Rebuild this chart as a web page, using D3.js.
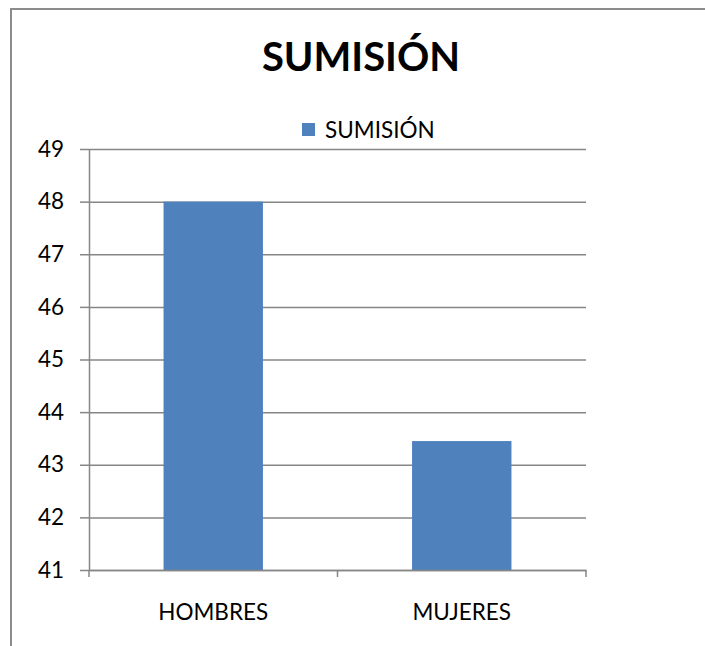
<!DOCTYPE html>
<html>
<head>
<meta charset="utf-8">
<script src="https://cdn.jsdelivr.net/npm/d3@7"></script>
<style>
  html, body { margin: 0; background: #fff; overflow: hidden; }
  svg { display: block; }
  text { font-family: Lato, "Open Sans", sans-serif; fill: #000; }
  .axis .domain, .axis .tick line { stroke: #868686; stroke-width: 1.5; }
  .grid .tick line { stroke: #868686; stroke-width: 1.5; }
  .grid .domain { display: none; }
</style>
</head>
<body>
<svg class="chart"></svg>
<script>
// chart data
var categories = ['HOMBRES', 'MUJERES'];
var values = [48, 43.45];
var seriesName = 'SUMISIÓN';
var yTicks = [41, 42, 43, 44, 45, 46, 47, 48, 49];

var W = 705, H = 646;
var margin = {top: 149, right: 119, bottom: 76, left: 89},
	width = W - margin.left - margin.right,
	height = H - margin.top - margin.bottom;

var chart = d3.select('.chart')
	.attr('width', W)
	.attr('height', H);

// outer frame: only the left and top edges show, the rest runs off the picture
chart.append('path')
	.attr('d', 'M11,' + H + 'V9H' + W)
	.attr('fill', 'none')
	.attr('stroke', '#8c8c8c')
	.attr('stroke-width', 2);

// title
chart.append('text')
	.attr('x', 361).attr('y', 71)
	.attr('text-anchor', 'middle')
	.style('font-size', '40px')
	.style('font-weight', 'bold')
	.text(seriesName);

// legend
var legend = chart.append('g').attr('transform', 'translate(302,123)');
legend.append('rect')
	.attr('width', 13).attr('height', 13)
	.attr('fill', '#4F81BD');
legend.append('text')
	.attr('x', 23).attr('y', 15)
	.style('font-size', '22.5px')
	.text(seriesName);

var x = d3.scaleBand().domain(categories).range([0, width]).paddingInner(0.6).paddingOuter(0.3),
	y = d3.scaleLinear().domain([41, 49]).range([height, 0]);

var g = chart.append('g')
	.attr('transform', 'translate(' + margin.left + ',' + margin.top + ')');

// gridlines
g.append('g')
	.attr('class', 'grid')
	.call(d3.axisLeft(y).tickValues(yTicks).tickSize(-width).tickFormat(''));

// bars
g.selectAll('.bar')
	.data(values)
  .enter().append('rect')
	.attr('class', 'bar')
	.attr('x', function(d, i) { return x(categories[i]); })
	.attr('y', function(d) { return y(d); })
	.attr('width', x.bandwidth())
	.attr('height', function(d) { return height - y(d); })
	.attr('fill', '#4F81BD');

// y axis
var yAxis = g.append('g')
	.attr('class', 'axis')
	.call(d3.axisLeft(y).tickValues(yTicks).tickSize(9).tickSizeOuter(0).tickPadding(16));
yAxis.selectAll('text').style('font-size', '22.5px');

// x axis: ticks sit between categories, so draw them from band edges
var xAxis = g.append('g')
	.attr('class', 'axis')
	.attr('transform', 'translate(0,' + height + ')')
	.call(d3.axisBottom(x).tickSize(0).tickPadding(34));
xAxis.selectAll('text').style('font-size', '22.5px');

var edges = [0, width / 2, width];
xAxis.selectAll('.sep')
	.data(edges)
  .enter().append('line')
	.attr('class', 'sep')
	.attr('x1', function(d) { return d; })
	.attr('x2', function(d) { return d; })
	.attr('y1', 0).attr('y2', 7)
	.attr('stroke', '#868686')
	.attr('stroke-width', 1.5);
</script>
</body>
</html>
